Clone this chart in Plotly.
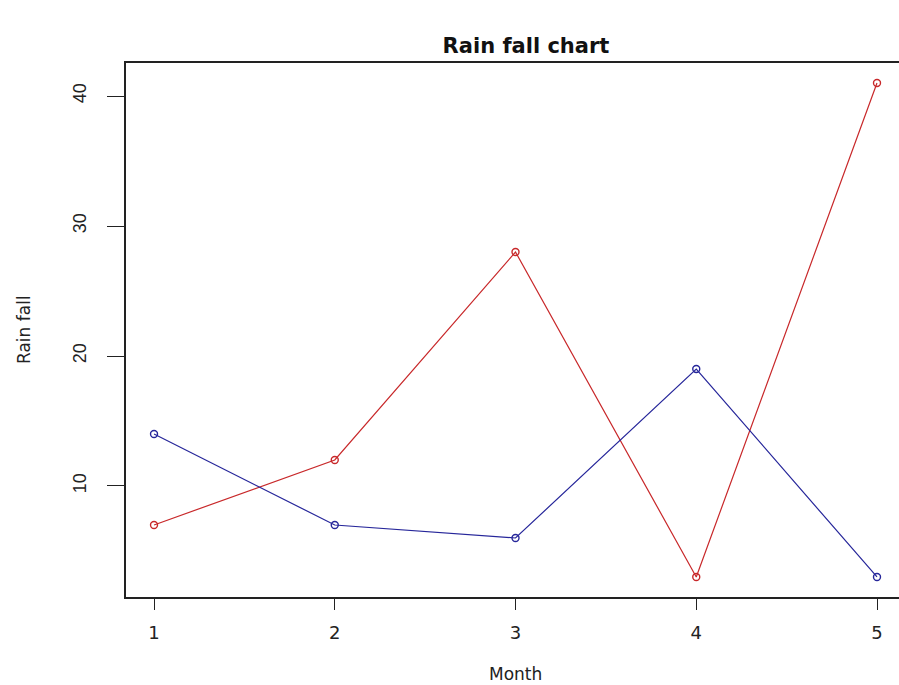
import plotly.graph_objects as go

# Monthly rainfall for two series
months = [1, 2, 3, 4, 5]
rain_red = [7, 12, 28, 3, 41]
rain_blue = [14, 7, 6, 19, 3]
y_ticks = [10, 20, 30, 40]

FONT = "Liberation Sans, Arial, sans-serif"
WIDE = "DejaVu Sans, Verdana, sans-serif"

W, H = 899, 685
L, R, T, B = 126, 0, 63, 88
plot_w = W - L - R
plot_h = H - T - B


def px_x(px):
    """Pixel column -> fraction of the plot area width."""
    return (px - L) / plot_w


def px_y(py):
    """Pixel row -> fraction of the plot area height."""
    return (H - B - py) / plot_h


fig = go.Figure()
fig.add_trace(go.Scatter(
    x=months, y=rain_red, mode="lines+markers",
    line=dict(color="#c8282a", width=1.2),
    marker=dict(symbol="circle-open", size=7, color="#c8282a", line=dict(width=1.4)),
    showlegend=False,
))
fig.add_trace(go.Scatter(
    x=months, y=rain_blue, mode="lines+markers",
    line=dict(color="#26269a", width=1.2),
    marker=dict(symbol="circle-open", size=7, color="#26269a", line=dict(width=1.4)),
    showlegend=False,
))

fig.update_layout(
    width=W, height=H,
    margin=dict(l=L, r=R, t=T, b=B),
    paper_bgcolor="white", plot_bgcolor="white",
    font=dict(family=FONT, color="#222222"),
    title=dict(
        text="<b>Rain fall chart</b>",
        x=px_x(526), xref="paper", xanchor="center",
        y=1 - 46 / H, yref="container", yanchor="middle",
        font=dict(size=21, family=WIDE, color="#111111"),
    ),
    xaxis=dict(
        range=[0.845, 5.1217], tickvals=months, ticktext=[str(m) for m in months],
        showgrid=False, zeroline=False,
        showline=True, linecolor="#222222", linewidth=1.5, mirror=True,
        ticks="outside", ticklen=11, tickcolor="#222222", tickwidth=1.2,
        tickfont=dict(size=18, family=WIDE, color="#222222"),
        ticklabelstandoff=8,
    ),
    yaxis=dict(
        range=[1.46, 42.54], tickvals=y_ticks, ticktext=[str(v) for v in y_ticks],
        showgrid=False, zeroline=False,
        showline=True, linecolor="#222222", linewidth=1.5, mirror=False,
        ticks="outside", ticklen=17, tickcolor="#222222", tickwidth=1.2,
        tickangle=-90,
        tickfont=dict(size=18, family=FONT, color="#222222"),
        ticklabelstandoff=14,
    ),
    annotations=[
        dict(text="Month", x=px_x(515), y=px_y(674), xref="paper", yref="paper",
             xanchor="center", yanchor="middle", showarrow=False,
             font=dict(size=17, family=WIDE, color="#222222")),
        dict(text="Rain fall", x=px_x(24), y=px_y(329), xref="paper", yref="paper",
             xanchor="center", yanchor="middle", textangle=-90, showarrow=False,
             font=dict(size=17, family=WIDE, color="#222222")),
    ],
)

fig.write_html("out.html")
